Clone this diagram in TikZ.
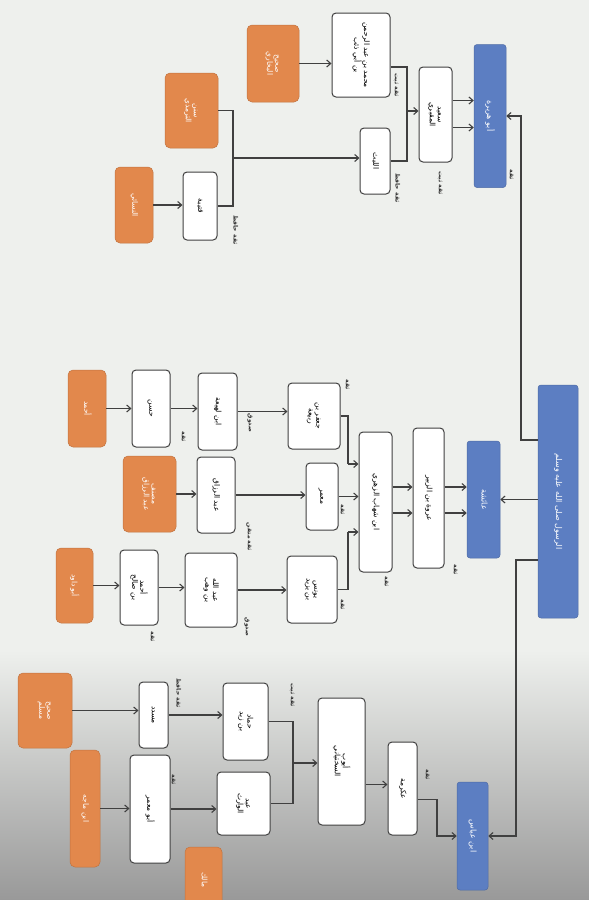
\documentclass[tikz,border=0pt]{standalone}
\usepackage{fontspec}
\usepackage{graphicx}
\usetikzlibrary{arrows.meta}
\newfontfamily\arabicfont[Script=Arabic]{DejaVu Sans}
\TeXXeTstate=1

\definecolor{paper}{RGB}{238,240,237}
\definecolor{srcorange}{RGB}{226,136,76}
\definecolor{compblue}{RGB}{92,126,194}

% one line of arabic, right to left
\newcommand{\arl}[1]{\beginR #1\endR}
% text turned with the page
\newcommand{\vtext}[1]{\rotatebox{-90}{\arabicfont\renewcommand{\arraystretch}{0.9}\begin{tabular}{@{}c@{}}#1\end{tabular}}}

\begin{document}
\begin{tikzpicture}[x=1pt, y=-1pt,
    box/.style={draw=black!75, line width=1pt, rounded corners=4pt, fill=white, inner sep=1pt, font=\fontsize{7.5}{8.5}\selectfont},
    srcbox/.style={fill=srcorange, draw=srcorange!85!black, line width=.5pt, rounded corners=5pt, text=white, inner sep=1pt, font=\fontsize{7.5}{8.5}\selectfont},
    compbox/.style={fill=compblue, draw=compblue!85!black, line width=.5pt, rounded corners=3pt, text=white, inner sep=1pt, font=\fontsize{8}{9}\selectfont},
    grade/.style={font=\fontsize{6}{6.5}\selectfont\bfseries, text=black!80, inner sep=0pt},
    link/.style={draw=black!75, line width=1.1pt},
    arr/.style={link, -{Straight Barb[length=4pt,width=7pt]}}]

    \useasboundingbox (0,0) rectangle (589,900);
    \fill[paper] (0,0) rectangle (589,900);
    \shade[top color=paper, bottom color=black!40] (0,650) rectangle (589,900); % scan shadow

    % the prophet and the companions
    \node[compbox, minimum width=40pt, minimum height=233pt] (root) at (558,501.5) {\vtext{\arl{الرسول صلى الله عليه وسلم}}};
    \node[compbox, minimum width=32pt, minimum height=143pt] (bA) at (490,116) {\vtext{\arl{أبو هريرة}}};
    \node[compbox, minimum width=33pt, minimum height=117pt] (bB) at (483.5,499.5) {\vtext{\arl{عائشة}}};
    \node[compbox, minimum width=31pt, minimum height=108pt] (bC) at (472.5,836) {\vtext{\arl{ابن عباس}}};

    \coordinate (kA) at (521,440);
    \coordinate (kC) at (516,560);
    \draw[arr] (kA -| root.west) -- (kA) |- (bA.east);
    \draw[arr] (root.west |- bB) -- (bB.east);
    \draw[arr] (kC -| root.west) -- (kC) |- (bC.east);

    % first chain: abu hurayra
    \node[box, minimum width=33pt, minimum height=95pt] (a1) at (435.5,114.5) {\vtext{\arl{سعيد}\\\arl{المقبري}}};
    \node[box, minimum width=58pt, minimum height=84pt] (a2u) at (361,55) {\vtext{\arl{محمد بن عبد الرحمن}\\\arl{بن أبي ذئب}}};
    \node[box, minimum width=30pt, minimum height=66pt] (a2l) at (375,161) {\vtext{\arl{الليث}}};
    \node[box, minimum width=34pt, minimum height=68pt] (a3) at (200,206) {\vtext{\arl{قتيبة}}};
    \node[srcbox, minimum width=52pt, minimum height=77pt] (o1) at (273,63.5) {\vtext{\arl{صحيح}\\\arl{البخاري}}};
    \node[srcbox, minimum width=53pt, minimum height=75pt] (o2) at (191.5,110.5) {\vtext{\arl{سنن}\\\arl{الترمذي}}};
    \node[srcbox, minimum width=38pt, minimum height=76pt] (o3) at (134,205) {\vtext{\arl{النسائي}}};

    \coordinate (jA) at (407,111);
    \coordinate (jB) at (233,158);
    \foreach \s in {14,-13} {
        \draw[arr] ([yshift=\s pt]a1.east) -- ([yshift=\s pt]a1.east -| bA.west);
    }
    \draw[link] ([yshift=-12pt]a2u.east) -| (jA) |- (a2l.east);
    \draw[arr] (jA) -- (jA -| a1.west);
    \draw[arr] (o1.east) -- (o1.east -| a2u.west);
    \draw[link] (o2.east) -| (jB) |- (a3.east);
    \draw[arr] (jB) -- (jB -| a2l.west);
    \draw[arr] (o3.east) -- (o3.east -| a3.west);

    \node[grade] (gA) at (511,175) {\vtext{\arl{ثقة}}};
    \node[grade] (gA1) at (440,183) {\vtext{\arl{ثقة ثبت}}};
    \node[grade] (gA2u) at (396,85) {\vtext{\arl{ثقة ثبت}}};
    \node[grade] (gA2l) at (397,188) {\vtext{\arl{ثقة حافظ}}};
    \node[grade] (gA3) at (235,230) {\vtext{\arl{ثقة حافظ}}};

    % second chain: aisha
    \node[box, minimum width=31pt, minimum height=140pt] (b1) at (428.5,498) {\vtext{\arl{عروة بن الزبير}}};
    \node[box, minimum width=33pt, minimum height=140pt] (b2) at (375.5,502) {\vtext{\arl{ابن شهاب الزهري}}};
    \node[box, minimum width=52pt, minimum height=66pt] (b3a) at (314,416) {\vtext{\arl{جعفر بن}\\\arl{ربيعة}}};
    \node[box, minimum width=32pt, minimum height=67pt] (b3b) at (322,496.5) {\vtext{\arl{معمر}}};
    \node[box, minimum width=50pt, minimum height=67pt] (b3c) at (312,589.5) {\vtext{\arl{يونس}\\\arl{بن يزيد}}};

    \node[srcbox, minimum width=38pt, minimum height=77pt] (oa) at (87,408.5) {\vtext{\arl{أحمد}}};
    \node[box, minimum width=38pt, minimum height=77pt] (ca1) at (151,408.5) {\vtext{\arl{حسن}}};
    \node[box, minimum width=39pt, minimum height=77pt] (ca2) at (217.5,411.5) {\vtext{\arl{ابن لهيعة}}};

    \node[srcbox, minimum width=53pt, minimum height=76pt] (ob) at (149.5,494) {\vtext{\arl{مصنف}\\\arl{عبد الرزاق}}};
    \node[box, minimum width=38pt, minimum height=76pt] (cb1) at (216,495) {\vtext{\arl{عبد الرزاق}}};

    \node[srcbox, minimum width=37pt, minimum height=75pt] (oc) at (74.5,585.5) {\vtext{\arl{أبو داود}}};
    \node[box, minimum width=38pt, minimum height=75pt] (cc1) at (139,587.5) {\vtext{\arl{أحمد}\\\arl{بن صالح}}};
    \node[box, minimum width=52pt, minimum height=74pt] (cc2) at (211,590) {\vtext{\arl{عبد الله}\\\arl{بن وهب}}};

    \coordinate (jC) at (348,464);
    \coordinate (jD) at (348,532);
    \foreach \s in {11,-15} {
        \draw[arr] ([yshift=\s pt]b1.east) -- ([yshift=\s pt]b1.east -| bB.west);
    }
    \foreach \s in {15,-11} {
        \draw[arr] ([yshift=\s pt]b2.east) -- ([yshift=\s pt]b2.east -| b1.west);
    }
    \draw[link] (b3a.east) -| (jC);
    \draw[arr] (jC) -- (jC -| b2.west);
    \draw[arr] (b3b.east) -- (b3b.east -| b2.west);
    \draw[link] (b3c.east) -| (jD);
    \draw[arr] (jD) -- (jD -| b2.west);

    \draw[arr] (oa.east) -- (oa.east -| ca1.west);
    \draw[arr] (ca1.east) -- (ca1.east -| ca2.west);
    \draw[arr] (ca2.east) -- (ca2.east -| b3a.west);
    \draw[arr] (ob.east) -- (ob.east -| cb1.west);
    \draw[arr] (cb1.east) -- (cb1.east -| b3b.west);
    \draw[arr] (oc.east) -- (oc.east -| cc1.west);
    \draw[arr] (cc1.east) -- (cc1.east -| cc2.west);
    \draw[arr] (cc2.east) -- (cc2.east -| b3c.west);

    \node[grade] (gB1) at (455,570) {\vtext{\arl{ثقة}}};
    \node[grade] (gB2) at (386,582) {\vtext{\arl{ثقة}}};
    \node[grade] (gB3a) at (347,385) {\vtext{\arl{ثقة}}};
    \node[grade] (gB3b) at (342,510) {\vtext{\arl{ثقة}}};
    \node[grade] (gB3c) at (342,605) {\vtext{\arl{ثقة}}};
    \node[grade] (gCa1) at (183,437) {\vtext{\arl{ثقة}}};
    \node[grade] (gCa2) at (250,423) {\vtext{\arl{صدوق}}};
    \node[grade] (gCb1) at (249,537) {\vtext{\arl{ثقة متقن}}};
    \node[grade] (gCc1) at (152,637) {\vtext{\arl{ثقة}}};
    \node[grade] (gCc2) at (247,627) {\vtext{\arl{صدوق}}};

    % third chain: ibn abbas
    \node[box, minimum width=29pt, minimum height=93pt] (d1) at (402.5,788.5) {\vtext{\arl{عكرمة}}};
    \node[box, minimum width=47pt, minimum height=127pt] (d2) at (341.5,761.5) {\vtext{\arl{أيوب}\\\arl{السختياني}}};
    \node[box, minimum width=45pt, minimum height=77pt] (d3a) at (245.5,721.5) {\vtext{\arl{حماد}\\\arl{بن زيد}}};
    \node[box, minimum width=53pt, minimum height=63pt] (d3b) at (243.5,803.5) {\vtext{\arl{عبد}\\\arl{الوارث}}};
    \node[box, minimum width=29pt, minimum height=66pt] (d4a) at (153.5,715) {\vtext{\arl{مسدد}}};
    \node[box, minimum width=40pt, minimum height=108pt] (d4b) at (150,809) {\vtext{\arl{أبو معمر}}};
    \node[srcbox, minimum width=54pt, minimum height=75pt] (od1) at (45,710.5) {\vtext{\arl{صحيح}\\\arl{مسلم}}};
    \node[srcbox, minimum width=30pt, minimum height=117pt] (od2) at (85,808.5) {\vtext{\arl{ابن ماجه}}};
    \node[srcbox, minimum width=37pt, minimum height=66pt] (od3) at (203.5,880) {\vtext{\arl{مالك}}};

    \coordinate (jE) at (437,836);
    \coordinate (jF) at (293,763);
    \draw[arr] ([yshift=-11pt]d1.east) -| (jE) -- (bC.west);
    \draw[arr] ([yshift=-23pt]d2.east) -- ([yshift=-23pt]d2.east -| d1.west);
    \draw[link] (d3a.east) -| (jF) |- (d3b.east);
    \draw[arr] (jF) -- (jF -| d2.west);
    \draw[arr] (d4a.east) -- (d4a.east -| d3a.west);
    \draw[arr] (d4b.east) -- (d4b.east -| d3b.west);
    \draw[arr] (od1.east) -- (od1.east -| d4a.west);
    \draw[arr] (od2.east) -- (od2.east -| d4b.west);

    \node[grade] (gD1) at (427,775) {\vtext{\arl{ثقة}}};
    \node[grade] (gD3a) at (292,695) {\vtext{\arl{ثقة ثبت}}};
    \node[grade] (gD4a) at (178,693) {\vtext{\arl{ثقة حافظ}}};
    \node[grade] (gD4b) at (173,780) {\vtext{\arl{ثقة}}};

\end{tikzpicture}
\end{document}
